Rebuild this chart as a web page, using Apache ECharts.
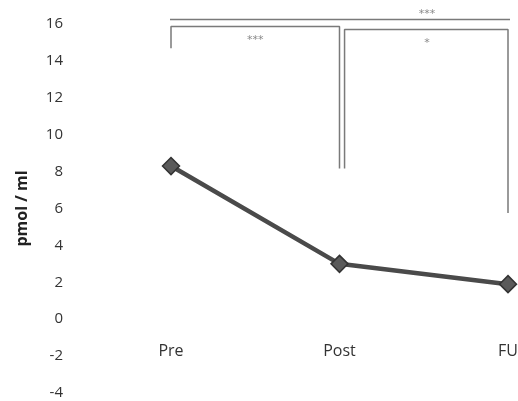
<!DOCTYPE html>
<html>
<head>
<meta charset="utf-8"/>
<script src="https://cdn.jsdelivr.net/npm/echarts@6/dist/echarts.min.js"></script>
<style>
	body{margin:0;padding:0;background:#fff;}
	#chart{width:518px;height:401px;}
</style>
</head>
<body>
<div id="chart"></div>
<script>
	// data
	var categories = ['Pre', 'Post', 'FU'];
	var values = [8.3, 3.0, 1.9];
	var yTicks = [-4, 16, 2];   // min, max, interval
	// significance brackets: from, to, stars, bar height, left leg end, right leg end, star x, star y
	var brackets = [
		[0.0, 1.0, '***', 15.86, 14.68, 8.17, 0.5, 15.1],
		[1.03, 2.0, '*', 15.7, 8.17, 5.75, 1.52, 14.95],
		[-0.05, 2.05, '***', 16.24, 15.05, 5.75, 1.52, 16.56]
	];

	var chart = echarts.init(document.getElementById('chart'));
	var series = [];
	series.push({
		type: 'line',
		xAxisIndex: 0,
		data: values,
		symbol: 'diamond',
		symbolSize: 17,
		lineStyle: {color: '#4a4a4a', width: 4.5},
		itemStyle: {color: '#5a5a5a', borderColor: '#333', borderWidth: 1.5},
		z: 5
	});
	var starData = [];
	for (var i = 0; i < brackets.length; i++) {
		var b = brackets[i];
		series.push({
			type: 'line',
			xAxisIndex: 1,
			clip: false,
			symbol: 'none',
			silent: true,
			lineStyle: {color: '#7a7a7a', width: 1.5},
			data: [[b[0], b[4]], [b[0], b[3]], [b[1], b[3]], [b[1], b[5]]]
		});
		starData.push([b[6], b[7], b[2]]);
	}
	series.push({
		type: 'scatter',
		xAxisIndex: 1,
		clip: false,
		symbolSize: 0,
		data: starData,
		label: {
			show: true,
			position: 'inside',
			color: '#6a6a6a',
			fontSize: 11,
			fontFamily: 'DejaVu Sans',
			formatter: function (p) { return p.data[2]; }
		}
	});

	var option = {
		animation: false,
		grid: {left: 171, right: 10, top: 24, bottom: 8, containLabel: false, outerBoundsMode: 'none'},
		xAxis: [{
			type: 'category',
			data: categories,
			boundaryGap: false,
			position: 'bottom',
			offset: -74,
			axisLine: {show: false, onZero: false},
			axisTick: {show: false},
			axisLabel: {color: '#333', fontSize: 16, fontFamily: 'Open Sans', margin: 24}
		}, {
			type: 'value',
			min: 0,
			max: 2,
			show: false
		}],
		yAxis: {
			type: 'value',
			min: yTicks[0],
			max: yTicks[1],
			interval: yTicks[2],
			name: 'pmol / ml',
			nameLocation: 'middle',
			nameGap: 141,
			nameTextStyle: {color: '#222', fontSize: 16, fontWeight: 'bold', fontFamily: 'Open Sans'},
			axisLine: {show: false},
			axisTick: {show: false},
			splitLine: {show: false},
			axisLabel: {color: '#333', fontSize: 15, fontFamily: 'Open Sans', margin: 108}
		},
		series: series
	};
	chart.setOption(option);
</script>
</body>
</html>
